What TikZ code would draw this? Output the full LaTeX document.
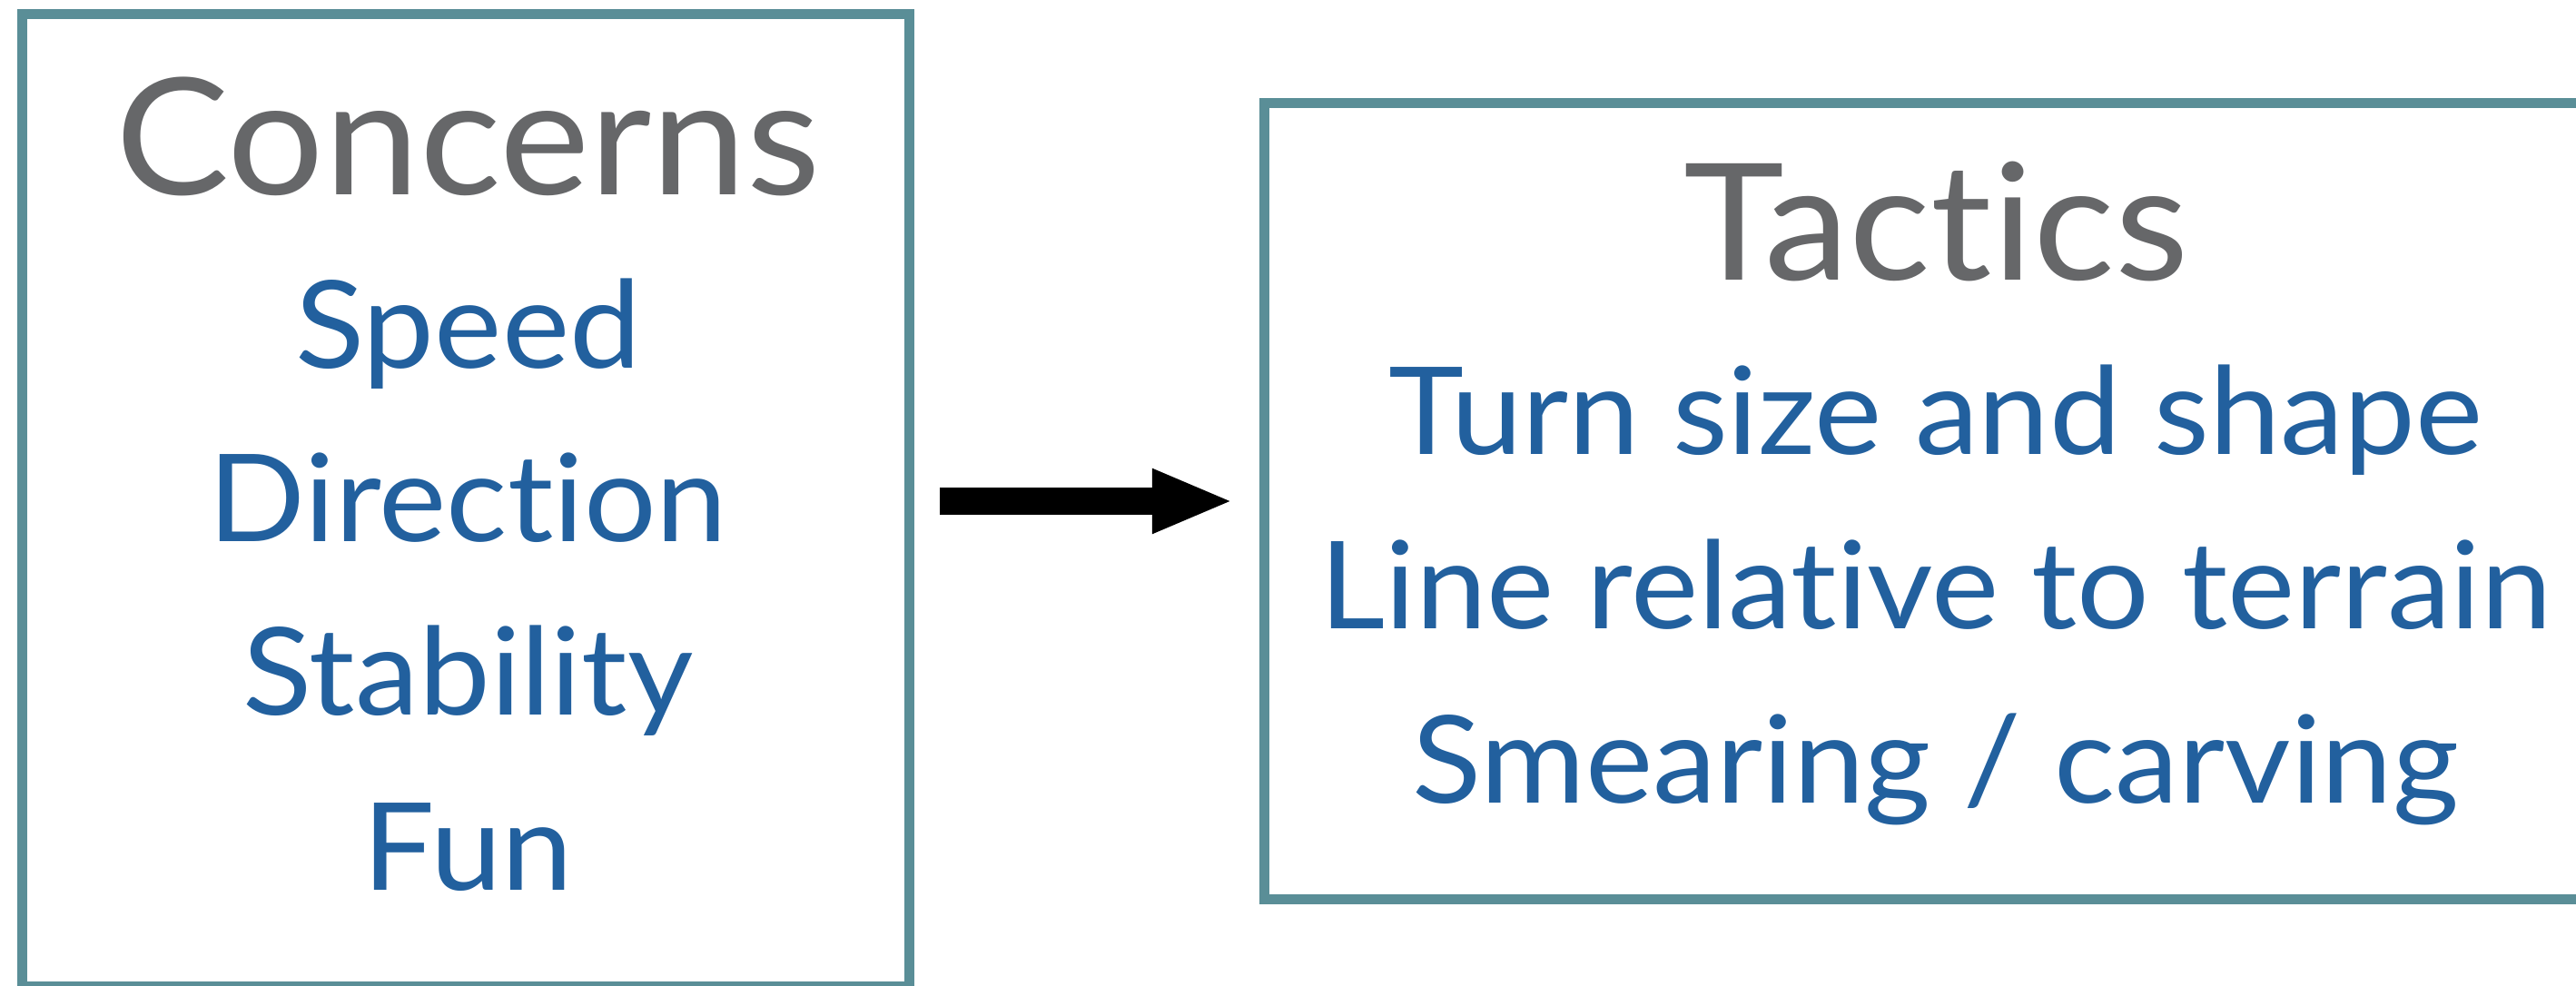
\documentclass[tikz,border=0pt]{standalone}
\usepackage{fontspec}
\setmainfont{Lato}[Ligatures={NoCommon,NoRare,NoContextual}, FakeStretch=1.05]
\usepackage{tikz}
\usetikzlibrary{arrows.meta, positioning, calc}
\definecolor{boxteal}{HTML}{5A8E97}
\definecolor{headgray}{HTML}{666769}
\definecolor{itemblue}{HTML}{22609E}

\begin{document}
\begin{tikzpicture}[
    panel/.style={draw=boxteal, line width=0.11cm, rectangle, inner sep=0pt},
    head/.style={anchor=base, text=headgray, inner sep=0pt, font=\fontsize{50.9}{60}\selectfont},
    item/.style={anchor=base, text=itemblue, inner sep=0pt, font=\fontsize{38.1}{46}\selectfont}]
    \useasboundingbox (0,0) rectangle (28.37,10.85);
    \node[panel, minimum width=9.765cm, minimum height=10.715cm] (concerns) at (5.13,5.34) {};
    \node[panel, minimum width=14.795cm, minimum height=8.77cm] (tactics) at (21.32,5.33) {};
    % left column
    \node[head] (concernshead) at (5.155,8.70) {Concerns};
    \node[item] (speed) at (5.155,6.79) {Speed};
    \node[item] (direction) at (5.155,4.88) {Direction};
    \node[item] (stability) at (5.155,2.97) {Stability};
    \node[item] (fun) at (5.155,1.05) {Fun};
    % right column
    \node[head] (tacticshead) at (21.32,7.76) {Tactics};
    \node[item] (turn) at (21.32,5.84) {Turn size and shape};
    \node[item] (line) at (21.32,3.92) {Line relative to terrain};
    \node[item] (smear) at (21.32,2.00) {Smearing / carving};
    \draw[line width=0.3cm, -{Triangle[length=0.9cm, width=0.65cm]}, shorten <=0.28cm, shorten >=0.28cm]
      (concerns.east |- 0,5.33) -- (tactics.west |- 0,5.33);
  \end{tikzpicture}
\end{document}
